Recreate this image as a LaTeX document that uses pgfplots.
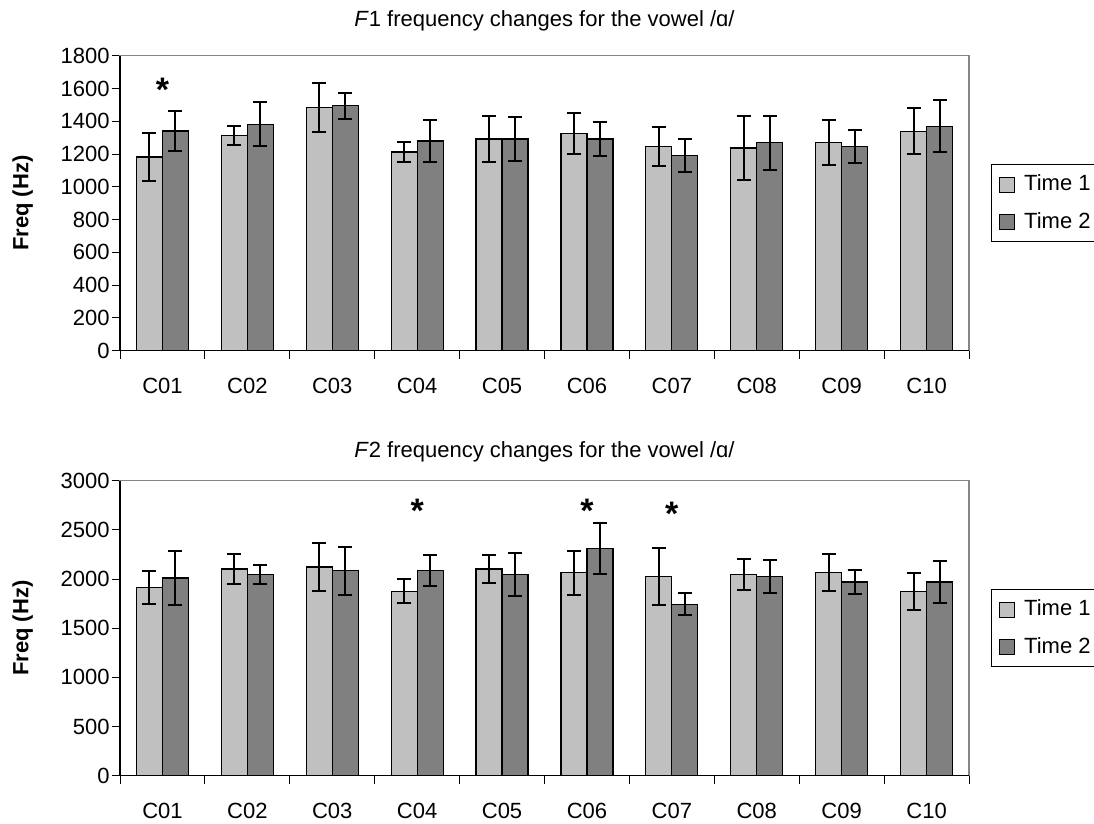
\documentclass[border=0pt]{standalone}
\usepackage{fontspec}
\setmainfont{Liberation Sans}
\usepackage{pgfplots}
\pgfplotsset{compat=1.18}

\definecolor{barlight}{HTML}{C0C0C0}
\definecolor{bardark}{HTML}{808080}
\definecolor{framegray}{HTML}{868686}

\pgfplotsset{
  vowelchart/.style={
    scale only axis, width=424.5bp, height=147.5bp,
    ybar=0pt, bar width=13bp,
    xmin=-0.5, xmax=9.5, ymin=0,
    clip=false, enlargelimits=false,
    xtick={0,...,9},
    xticklabels={C01,C02,C03,C04,C05,C06,C07,C08,C09,C10},
    major x tick style={draw=none},
    minor xtick={-0.5,0.5,...,9.5},
    tick align=outside, major tick length=4bp, minor tick length=4bp,
    xtick pos=bottom, ytick pos=left,
    tick style={black, line width=0.5bp},
    axis line style={framegray, line width=0.75bp},
    /pgf/number format/assume math mode=true,
    /pgf/number format/set thousands separator={},
    xticklabel style={anchor=north, inner sep=0pt, yshift=-9.5bp},
    yticklabel style={anchor=east, inner sep=0pt, xshift=-1bp},
    ylabel={\textbf{Freq (Hz)}},
    every axis y label/.style={at={(0,0.5)}, xshift=-48.65bp, rotate=90, anchor=center},
    legend style={at={(1,0.5)}, anchor=west, xshift=10.85bp, draw=black,
      line width=0.5bp, inner xsep=4bp, inner ysep=4bp, row sep=7bp,
      nodes={inner sep=1bp},
      /tikz/every odd column/.append style={column sep=3.5bp}},
    legend cell align=left,
  },
  sqlegend/.style={legend image code/.code={
      \draw[#1, draw=black, line width=0.5bp] (0bp,-3.75bp) rectangle (7.5bp,3.75bp);}},
  errs/.style={error bars/.cd, y dir=both, y explicit,
    error bar style={line width=1bp, black},
    error mark options={rotate=90, line width=1bp, mark size=3.5bp, black}},
}

\begin{document}
\fontsize{11bp}{13.2bp}\selectfont
\begin{tikzpicture}
% F1
\begin{axis}[vowelchart, name=f1ax, at={(0,0)}, anchor=south west,
    ymax=1800, ytick={0,200,...,1800},
    title={\textit{F}1 frequency changes for the vowel /ɑ/},
    every axis title/.style={at={(0.5,1)}, anchor=base, yshift=14.5bp}]
\addplot[fill=barlight, draw=black, line width=0.6bp, sqlegend, errs] coordinates {
  (0,1182) +- (0,146) (1,1314) +- (0,57) (2,1484) +- (0,150) (3,1213) +- (0,62)
  (4,1292) +- (0,140) (5,1325) +- (0,124) (6,1247) +- (0,118) (7,1237) +- (0,197)
  (8,1268) +- (0,137) (9,1339) +- (0,141)};
\addlegendentry{Time 1}
\addplot[fill=bardark, draw=black, line width=0.6bp, sqlegend, errs] coordinates {
  (0,1340) +- (0,120) (1,1382) +- (0,135) (2,1494) +- (0,80) (3,1280) +- (0,130)
  (4,1292) +- (0,135) (5,1292) +- (0,103) (6,1190) +- (0,100) (7,1268) +- (0,165)
  (8,1247) +- (0,100) (9,1370) +- (0,158)};
\addlegendentry{Time 2}
\draw[black, line width=0.6bp] (rel axis cs:0,1) -- (rel axis cs:0,0) -- (rel axis cs:1,0);
\node[font=\bfseries\fontsize{17bp}{17bp}\selectfont, inner sep=0pt] at (axis cs:0,1590) {*};
\end{axis}

% F2
\begin{axis}[vowelchart, name=f2ax, at={(0,-212.5bp)}, anchor=south west,
    ymax=3000, ytick={0,500,...,3000},
    title={\textit{F}2 frequency changes for the vowel /ɑ/},
    every axis title/.style={at={(0.5,1)}, anchor=base, yshift=11.4bp}]
\addplot[fill=barlight, draw=black, line width=0.6bp, sqlegend, errs] coordinates {
  (0,1915) +- (0,168) (1,2102) +- (0,153) (2,2122) +- (0,243) (3,1877) +- (0,122)
  (4,2102) +- (0,145) (5,2064) +- (0,226) (6,2027) +- (0,290) (7,2047) +- (0,160)
  (8,2064) +- (0,187) (9,1877) +- (0,188)};
\addlegendentry{Time 1}
\addplot[fill=bardark, draw=black, line width=0.6bp, sqlegend, errs] coordinates {
  (0,2010) +- (0,272) (1,2047) +- (0,97) (2,2085) +- (0,245) (3,2085) +- (0,160)
  (4,2047) +- (0,215) (5,2309) +- (0,262) (6,1745) +- (0,110) (7,2027) +- (0,170)
  (8,1969) +- (0,122) (9,1969) +- (0,216)};
\addlegendentry{Time 2}
\draw[black, line width=0.6bp] (rel axis cs:0,1) -- (rel axis cs:0,0) -- (rel axis cs:1,0);
\node[font=\bfseries\fontsize{17bp}{17bp}\selectfont, inner sep=0pt] at (axis cs:3,2694) {*};
\node[font=\bfseries\fontsize{17bp}{17bp}\selectfont, inner sep=0pt] at (axis cs:5,2694) {*};
\node[font=\bfseries\fontsize{17bp}{17bp}\selectfont, inner sep=0pt] at (axis cs:6,2660) {*};
\end{axis}

\pgfresetboundingbox
\path[use as bounding box] ([shift={(-60bp,-23.65bp)}]f2ax.south west)
  rectangle ([shift={(62.5bp,27.85bp)}]f1ax.north east);
\end{tikzpicture}
\end{document}
